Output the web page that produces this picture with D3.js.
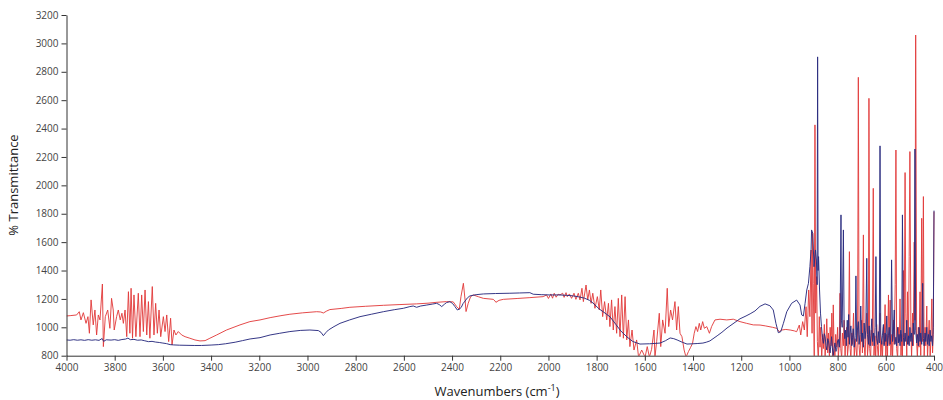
<!DOCTYPE html>
<html>
<head>
<meta charset="utf-8">
<script src="https://cdn.jsdelivr.net/npm/d3@7"></script>
<style>
  html, body { margin: 0; padding: 0; background: #fff; }
  svg { display: block; }
  .tick text { font-family: "Open Sans", "Liberation Sans", sans-serif; font-size: 10px; fill: #444; }
  .axis-title { font-family: "Open Sans", "Liberation Sans", sans-serif; font-size: 13px; fill: #222; }
</style>
</head>
<body>
<svg id="chart" width="943" height="400"></svg>
<script>
// ---- Data (wavenumber cm^-1, % transmittance) ----
const xTicks = [4000,3800,3600,3400,3200,3000,2800,2600,2400,2200,2000,1800,1600,1400,1200,1000,800,600,400];
const yTicks = [800,1000,1200,1400,1600,1800,2000,2200,2400,2600,2800,3000,3200];

const blueSpectrum = [
[4000,911],[3985,909],[3970,913],[3955,909],[3940,912],[3925,908],[3910,913],[3895,909],[3880,912],[3865,908],
[3852,921],[3846,901],[3835,912],[3815,910],[3800,913],[3785,908],[3770,914],[3755,917],[3745,924],[3735,913],
[3720,915],[3705,909],[3690,911],[3675,905],[3660,899],[3645,901],[3630,896],[3615,893],[3600,889],[3585,885],
[3570,878],[3555,876],[3530,874],[3500,873],[3470,872],[3440,872],[3400,875],[3370,878],[3340,884],[3300,895],
[3270,906],[3238,918],[3197,927],[3155,946],[3115,958],[3073,970],[3030,978],[2990,981],[2955,977],[2944,965],
[2934,941],[2924,962],[2913,981],[2890,1005],[2865,1028],[2825,1052],[2782,1075],[2735,1092],[2685,1110],[2640,1124],
[2602,1134],[2575,1146],[2561,1150],[2547,1141],[2530,1150],[2505,1157],[2480,1164],[2464,1169],[2453,1160],[2443,1146],
[2432,1162],[2423,1174],[2409,1181],[2398,1168],[2388,1146],[2378,1122],[2370,1128],[2362,1140],[2354,1168],[2346,1185],
[2336,1208],[2326,1221],[2300,1230],[2270,1235],[2220,1238],[2160,1240],[2120,1242],[2077,1244],[2063,1233],[2030,1230],
[1994,1228],[1952,1228],[1925,1225],[1900,1222],[1875,1215],[1850,1205],[1830,1190],[1815,1171],[1790,1130],[1765,1100],
[1744,1073],[1720,1020],[1700,975],[1674,932],[1650,900],[1620,882],[1580,884],[1537,889],[1515,905],[1495,925],
[1480,920],[1466,911],[1445,895],[1425,882],[1400,884],[1380,886],[1359,889],[1345,895],[1330,904],[1300,940],
[1280,965],[1259,995],[1230,1030],[1205,1060],[1180,1080],[1163,1095],[1143,1115],[1122,1148],[1101,1165],[1081,1152],
[1067,1122],[1056,1028],[1046,962],[1036,969],[1025,1028],[1011,1110],[991,1169],[970,1192],[956,1157],[949,1087],
[942,1080],[935,1169],[928,1263],[921,1310],[915,1427],[910,1550],[908,1686],[903,1662],[898,1427],[892,1545],
[888,1474],[885,1300],[883,2905],[881,1400],[879,1498],[875,1263],[871,1100],[867,1005],[863,930],[859,887],
[855,955],[852,934],[848,870],[845,840],[841,920],[838,905],[834,850],[831,820],[828,880],[825,934],
[822,860],[818,800],[815,850],[811,890],[807,830],[804,845],[800,905],[797,915],[793,860],[790,960],
[786,1792],[784,1050],[781,1000],[776,1686],[773,1000],[770,920],[767,980],[764,870],[760,1050],[757,930],
[754,1090],[751,880],[748,960],[745,1010],[741,870],[738,930],[735,990],[731,860],[727,940],[724,1362],
[721,900],[718,980],[714,1040],[711,880],[707,950],[704,1150],[700,900],[697,960],[693,860],[690,1030],
[686,920],[683,980],[679,1486],[676,950],[672,880],[669,1010],[665,870],[662,940],[658,1060],[655,900],
[651,960],[648,870],[644,1000],[641,1498],[638,920],[634,880],[631,970],[627,890],[624,2278],[621,960],
[617,880],[614,940],[610,1020],[607,870],[603,960],[600,900],[596,1080],[593,870],[589,940],[586,1000],
[582,880],[579,960],[576,1475],[572,900],[569,950],[565,1122],[562,880],[558,930],[555,870],[551,1000],
[548,890],[545,950],[541,870],[538,980],[534,900],[531,1792],[527,930],[524,870],[520,960],[517,900],
[513,1050],[510,880],[506,940],[503,870],[500,1000],[496,900],[493,960],[489,870],[486,1030],[482,950],
[479,2256],[476,980],[472,890],[469,950],[465,870],[462,1000],[458,900],[455,960],[451,880],[447,1310],
[444,920],[441,870],[437,960],[434,900],[430,1000],[427,880],[423,950],[420,870],[416,980],[413,900],
[410,940],[406,870],[403,1000],[400,1822]
];

const redSpectrum = [
[4000,1080],[3985,1082],[3958,1087],[3947,1110],[3940,1052],[3930,1103],[3919,1028],[3911,1075],[3905,958],[3898,1193],
[3889,1017],[3882,1122],[3875,946],[3868,1087],[3861,1052],[3851,1305],[3847,864],[3839,1075],[3829,1122],[3820,993],
[3813,1204],[3806,1122],[3802,981],[3792,1075],[3785,1122],[3777,1052],[3770,1099],[3764,1028],[3757,1122],[3750,934],
[3743,1251],[3737,958],[3732,1275],[3726,923],[3720,1228],[3712,934],[3702,1240],[3695,934],[3688,1228],[3681,970],
[3674,1263],[3667,946],[3660,1181],[3654,923],[3644,1287],[3637,946],[3630,1169],[3623,958],[3616,1122],[3609,934],
[3598,1075],[3591,970],[3584,1087],[3576,899],[3568,1064],[3562,876],[3554,981],[3546,946],[3536,970],[3522,946],
[3508,934],[3488,923],[3467,911],[3446,904],[3425,906],[3405,923],[3377,946],[3336,981],[3280,1017],[3239,1040],
[3197,1052],[3155,1068],[3110,1082],[3073,1092],[3020,1102],[2962,1110],[2945,1108],[2934,1101],[2920,1115],[2907,1125],
[2860,1133],[2824,1141],[2760,1148],[2685,1155],[2620,1160],[2547,1165],[2500,1170],[2464,1176],[2423,1181],[2395,1179],
[2381,1146],[2370,1127],[2363,1216],[2353,1310],[2346,1193],[2342,1111],[2333,1169],[2323,1216],[2312,1228],[2290,1215],
[2270,1204],[2229,1197],[2222,1186],[2218,1176],[2205,1190],[2187,1197],[2130,1203],[2077,1209],[2022,1216],[2008,1228],
[2000,1203],[1990,1235],[1983,1205],[1976,1240],[1968,1212],[1960,1233],[1952,1228],[1941,1240],[1935,1211],[1927,1244],
[1922,1216],[1913,1235],[1904,1204],[1894,1240],[1886,1197],[1876,1240],[1869,1193],[1861,1275],[1855,1181],[1844,1298],
[1837,1193],[1830,1263],[1823,1169],[1816,1240],[1807,1134],[1797,1216],[1789,1122],[1783,1263],[1775,1075],[1767,1181],
[1758,1052],[1751,1169],[1745,1005],[1738,1193],[1731,981],[1724,1146],[1717,958],[1710,1204],[1703,934],[1696,1228],
[1689,923],[1682,1216],[1675,911],[1668,1052],[1662,864],[1653,981],[1645,840],[1634,911],[1626,790],[1613,840],
[1599,790],[1590,864],[1581,790],[1572,845],[1562,981],[1558,790],[1551,899],[1540,1099],[1534,864],[1526,1052],
[1516,958],[1507,1275],[1501,1005],[1493,1122],[1485,1052],[1475,1181],[1468,981],[1461,1146],[1454,958],[1446,934],
[1437,840],[1429,790],[1419,829],[1410,859],[1402,887],[1395,958],[1388,1005],[1381,970],[1374,1028],[1368,981],
[1360,1040],[1353,993],[1343,1005],[1332,958],[1323,1005],[1309,1052],[1288,1057],[1260,1052],[1233,1057],[1205,1040],
[1178,1028],[1150,1017],[1122,1016],[1100,1010],[1070,1000],[1053,993],[1042,969],[1032,981],[1015,985],[997,981],
[980,975],[970,969],[959,1016],[953,946],[945,1040],[938,981],[931,1145],[926,934],[920,1263],[915,1075],
[910,1545],[906,958],[904,1662],[901,1310],[897,793],[894,2426],[891,1100],[887,1357],[884,900],[880,760],
[876,1075],[873,860],[870,1000],[866,780],[862,950],[859,850],[855,1020],[852,790],[848,900],[845,1060],
[841,820],[838,960],[834,780],[831,1000],[827,870],[824,1100],[820,790],[818,1158],[815,880],[811,780],
[808,950],[804,860],[800,1000],[797,780],[793,900],[790,1240],[787,850],[783,780],[780,960],[776,870],
[773,1050],[769,780],[766,920],[762,1000],[759,800],[755,880],[751,1533],[748,850],[745,780],[741,960],
[738,880],[734,1100],[731,780],[727,920],[724,860],[720,780],[717,1000],[714,2761],[711,870],[707,780],
[704,950],[700,1050],[697,820],[693,1651],[690,880],[686,780],[683,960],[679,1100],[676,800],[672,900],
[670,2613],[667,850],[663,780],[660,980],[656,870],[652,1979],[649,800],[645,940],[642,780],[638,1020],
[635,870],[631,780],[628,960],[624,1100],[621,790],[617,900],[614,780],[610,1000],[607,880],[603,1160],
[600,790],[596,950],[593,780],[589,1228],[586,870],[582,1192],[579,800],[575,950],[572,780],[568,1050],
[565,880],[561,1300],[558,2249],[555,850],[551,780],[548,1000],[544,900],[541,1200],[537,800],[534,950],
[531,780],[527,1400],[524,870],[520,2090],[517,1100],[513,790],[510,1250],[506,880],[503,1500],[500,2238],
[496,1000],[493,780],[489,1100],[486,870],[482,1600],[479,1050],[476,3059],[472,900],[469,780],[465,1000],
[462,860],[458,1250],[455,800],[451,1768],[448,900],[444,1921],[441,780],[437,1000],[434,870],[430,1150],
[427,780],[423,950],[420,1050],[416,790],[413,900],[409,1200],[406,820],[403,950],[400,1815]
];

// ---- Layout ----
const svg = d3.select("#chart");
const mLeft = 66.5, mRight = 934, mTop = 15, mBottom = 355.7;

const x = d3.scaleLinear().domain([4000, 400]).range([mLeft, mRight]);
const y = d3.scaleLinear().domain([800, 3200]).range([mBottom, mTop]);

svg.append("defs").append("clipPath").attr("id", "plotClip")
  .append("rect").attr("x", mLeft).attr("y", 0).attr("width", mRight - mLeft + 1).attr("height", mBottom);

const line = d3.line().x(d => x(d[0])).y(d => y(d[1]));

const plot = svg.append("g").attr("clip-path", "url(#plotClip)");
plot.append("path").datum(redSpectrum)
  .attr("d", line).attr("fill", "none").attr("stroke", "#e23b3b").attr("stroke-opacity", 0.92)
  .attr("stroke-width", 1).attr("stroke-linejoin", "round");
plot.append("path").datum(blueSpectrum)
  .attr("d", line).attr("fill", "none").attr("stroke", "#2a2c80").attr("stroke-opacity", 0.95)
  .attr("stroke-width", 1).attr("stroke-linejoin", "round");

// axes
const xAxis = svg.append("g").attr("transform", `translate(0,${mBottom})`)
  .call(d3.axisBottom(x).tickValues(xTicks).tickFormat(d3.format("d")).tickSize(5).tickSizeOuter(0).tickPadding(3));
const yAxis = svg.append("g").attr("transform", `translate(${mLeft},0)`)
  .call(d3.axisLeft(y).tickValues(yTicks).tickFormat(d3.format("d")).tickSize(5).tickSizeOuter(0).tickPadding(3));
[xAxis, yAxis].forEach(g => {
  g.selectAll(".domain").attr("stroke", "#333");
  g.selectAll(".tick line").attr("stroke", "#333");
});

// titles
const xt = svg.append("text").attr("class", "axis-title")
  .attr("x", 497).attr("y", 396).attr("text-anchor", "middle");
xt.append("tspan").text("Wavenumbers (cm");
xt.append("tspan").attr("dy", -5).attr("font-size", "9px").text("-1");
xt.append("tspan").attr("dy", 5).text(")");

svg.append("text").attr("class", "axis-title")
  .attr("transform", `translate(18,185) rotate(-90)`)
  .attr("text-anchor", "middle").text("% Transmittance");
</script>
</body>
</html>
